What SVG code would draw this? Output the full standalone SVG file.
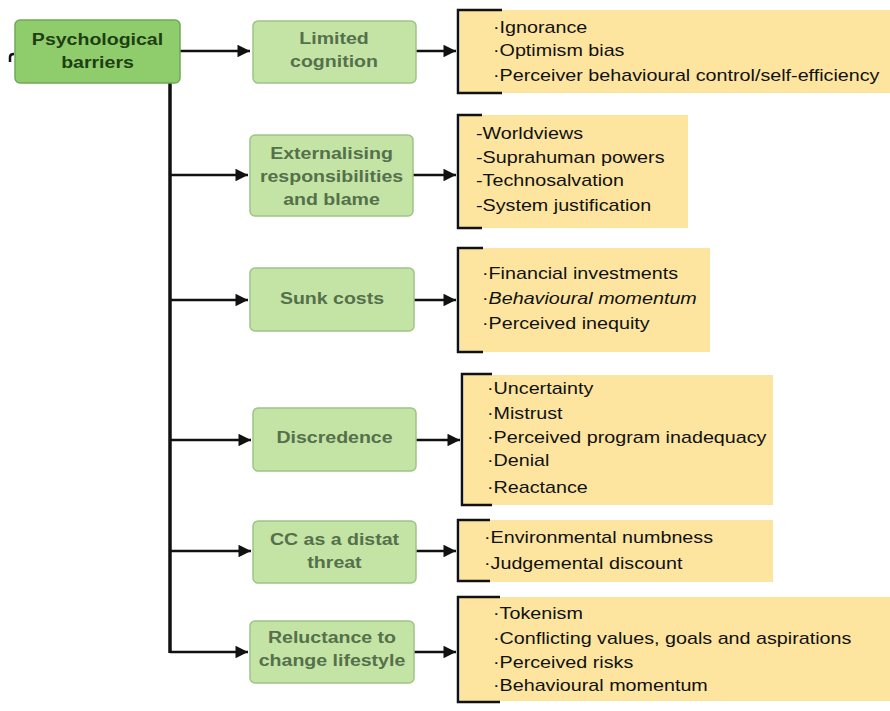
<svg xmlns="http://www.w3.org/2000/svg" width="890" height="711" viewBox="0 0 890 711">
<style>
.root rect{fill:#8fcd6c;stroke:#6fa955;stroke-width:1.5}
.cat rect{fill:#c4e4a6;stroke:#9dc487;stroke-width:1.5}
.root text{font-family:"Liberation Sans",Arial,sans-serif;font-weight:bold;font-size:17px;fill:#1d3f12;text-anchor:middle}
.cat text{font-family:"Liberation Sans",Arial,sans-serif;font-weight:bold;font-size:17px;fill:#55704a;text-anchor:middle}
.list rect{fill:#fde5a0}
.list path{fill:none;stroke:#111;stroke-width:2.5}
.list text{font-family:"Liberation Sans",Arial,sans-serif;font-size:17px;fill:#111}
.conn path{fill:none;stroke:#111;stroke-width:2.5}
.conn .trunk{stroke-width:3.5}
</style>
<defs>
<marker id="ah" viewBox="0 0 10 10" refX="10" refY="5" markerWidth="7" markerHeight="5" markerUnits="strokeWidth" orient="auto">
<path d="M0,0 L10,5 L0,10 Z" fill="#111"/>
</marker>
</defs>
<rect width="890" height="711" fill="#fff"/>

<g class="conn" id="connectors">
<path d="M10,62 L10,57 Q10,54 14,54"/>
<path class="trunk" d="M170,83 L170,653"/>
<path d="M180,51 L250,51" marker-end="url(#ah)"/>
<path d="M170,175 L248,175" marker-end="url(#ah)"/>
<path d="M170,300 L248,300" marker-end="url(#ah)"/>
<path d="M170,440 L251,440" marker-end="url(#ah)"/>
<path d="M170,551 L251,551" marker-end="url(#ah)"/>
<path d="M170,652 L248,652" marker-end="url(#ah)"/>
<path d="M416,51 L456,51" marker-end="url(#ah)"/>
<path d="M413,175 L456,175" marker-end="url(#ah)"/>
<path d="M414,300 L456,300" marker-end="url(#ah)"/>
<path d="M416,440 L460,440" marker-end="url(#ah)"/>
<path d="M416,551 L456,551" marker-end="url(#ah)"/>
<path d="M414,652 L456,652" marker-end="url(#ah)"/>
</g>

<g class="root" id="psychological-barriers">
<rect x="15" y="20" width="165" height="63" rx="5"/>
<g transform="translate(97.5,0) scale(1.15,1)"><text x="0" y="45">Psychological</text><text x="0" y="68">barriers</text></g>
</g>

<g class="cat" id="limited-cognition">
<rect x="253" y="21" width="163" height="62" rx="5"/>
<g transform="translate(334,0) scale(1.15,1)"><text x="0" y="44">Limited</text><text x="0" y="67">cognition</text></g>
</g>
<g class="cat" id="externalising">
<rect x="250" y="135" width="163" height="81" rx="5"/>
<g transform="translate(331.5,0) scale(1.15,1)"><text x="0" y="159">Externalising</text><text x="0" y="182">responsibilities</text><text x="0" y="205">and blame</text></g>
</g>
<g class="cat" id="sunk-costs">
<rect x="250" y="268" width="164" height="63" rx="5"/>
<g transform="translate(332,0) scale(1.15,1)"><text x="0" y="304">Sunk costs</text></g>
</g>
<g class="cat" id="discredence">
<rect x="253" y="408" width="163" height="63" rx="5"/>
<g transform="translate(334.5,0) scale(1.15,1)"><text x="0" y="443">Discredence</text></g>
</g>
<g class="cat" id="distant-threat">
<rect x="253" y="521" width="163" height="62" rx="5"/>
<g transform="translate(334.5,0) scale(1.15,1)"><text x="0" y="545">CC as a distat</text><text x="0" y="568">threat</text></g>
</g>
<g class="cat" id="reluctance">
<rect x="250" y="621" width="164" height="62" rx="5"/>
<g transform="translate(332,0) scale(1.15,1)"><text x="0" y="643">Reluctance to</text><text x="0" y="666">change lifestyle</text></g>
</g>

<g class="list" id="list-limited-cognition">
<rect x="460" y="10" width="430" height="83"/>
<path d="M502,10 L458,10 L458,93 L502,93"/>
<g transform="translate(493,0) scale(1.16,1)"><text x="0" y="33">·Ignorance</text><text x="0" y="56">·Optimism bias</text><text x="0" y="81">·Perceiver behavioural control/self-efficiency</text></g>
</g>
<g class="list" id="list-externalising">
<rect x="460" y="115" width="228" height="113"/>
<path d="M482,115 L458,115 L458,228 L482,228"/>
<g transform="translate(476,0) scale(1.16,1)"><text x="0" y="139">-Worldviews</text><text x="0" y="163">-Suprahuman powers</text><text x="0" y="186">-Technosalvation</text><text x="0" y="211">-System justification</text></g>
</g>
<g class="list" id="list-sunk-costs">
<rect x="460" y="248" width="250" height="104"/>
<path d="M483,248 L458,248 L458,352 L483,352"/>
<g transform="translate(482,0) scale(1.16,1)"><text x="0" y="279">·Financial investments</text><text x="0" y="304">·<tspan font-style="italic">Behavioural momentum</tspan></text><text x="0" y="329">·Perceived inequity</text></g>
</g>
<g class="list" id="list-discredence">
<rect x="464" y="375" width="309" height="130"/>
<path d="M492,374 L462,374 L462,505 L492,505"/>
<g transform="translate(487,0) scale(1.16,1)"><text x="0" y="394">·Uncertainty</text><text x="0" y="419">·Mistrust</text><text x="0" y="443">·Perceived program inadequacy</text><text x="0" y="466">·Denial</text><text x="0" y="493">·Reactance</text></g>
</g>
<g class="list" id="list-distant-threat">
<rect x="460" y="520" width="313" height="62"/>
<path d="M490,520 L458,520 L458,581 L490,581"/>
<g transform="translate(484,0) scale(1.16,1)"><text x="0" y="543">·Environmental numbness</text><text x="0" y="569">·Judgemental discount</text></g>
</g>
<g class="list" id="list-reluctance">
<rect x="460" y="597" width="430" height="104"/>
<path d="M500,597 L458,597 L458,702 L500,702"/>
<g transform="translate(493,0) scale(1.16,1)"><text x="0" y="619">·Tokenism</text><text x="0" y="644">·Conflicting values, goals and aspirations</text><text x="0" y="668">·Perceived risks</text><text x="0" y="691">·Behavioural momentum</text></g>
</g>
</svg>
